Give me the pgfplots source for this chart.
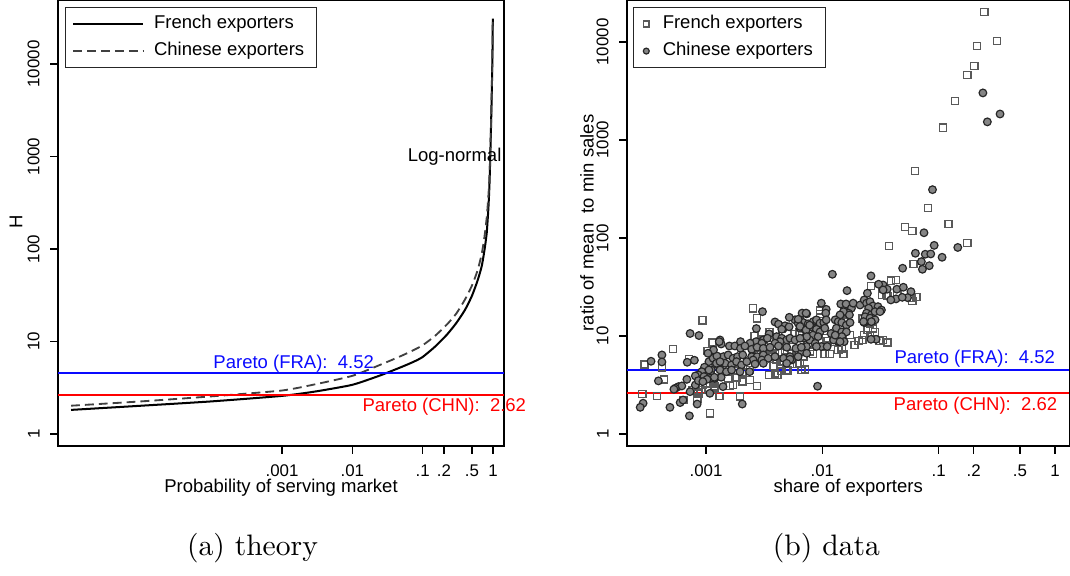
\documentclass[border=0pt]{standalone}
\usepackage{fontspec}
\usepackage{pgfplots}
\pgfplotsset{compat=1.18}
\newfontfamily\hel{Liberation Sans}
\definecolor{parblue}{RGB}{10,10,255}
\definecolor{parred}{RGB}{255,0,0}

\pgfplotsset{
  every axis/.append style={
    scale only axis,
    clip=false,
    axis line style={line width=0.45pt},
    every tick/.style={black, line width=0.45pt},
    tick align=outside,
    major tick length=2.7pt,
    xminorticks=false, yminorticks=false,
    xtick pos=bottom, ytick pos=left,
    tick label style={font=\hel\fontsize{5.7}{6.8}\selectfont},
    yticklabel style={rotate=90, anchor=south},
    label style={font=\hel\fontsize{6.25}{7.5}\selectfont},
    xlabel style={at={(axis description cs:0.5,-0.0944)}, anchor=center},
    legend cell align=left,
    legend style={draw=black!85, line width=0.44pt, fill=white,
      font=\hel\fontsize{6.25}{7.5}\selectfont,
      inner xsep=2.2pt, inner ysep=0.6pt, row sep=-0.9pt},
  },
}
\tikzset{pareto/.style={font=\hel\fontsize{6.25}{7.5}\selectfont, inner sep=0pt, anchor=west}}

\begin{document}
\begin{tikzpicture}
\path[use as bounding box] (0,0) rectangle (361.5pt,-194.6pt);

% (a) theory
\begin{axis}[
  xmode=log, ymode=log,
  xtick={0.001,0.01,0.1,0.2,0.5,1},
  xticklabels={.001,.01,.1,.2,.5,1},
  ytick={1,10,100,1000,10000},
  yticklabels={1,10,100,1000,10000},
  at={(19.60pt,-0.27pt)}, anchor=north west,
  width=150.68pt, height=150.41pt,
  xmin=6.53e-7, xmax=1.432, ymin=0.741, ymax=48200,
  xlabel={Probability of serving market},
  ylabel={H},
  ylabel style={at={(axis description cs:-0.0942,0.503)}, anchor=center},
  legend style={at={(axis description cs:0.0157,0.9865)}, anchor=north west},
  legend image code/.code={\draw[#1] (0pt,0pt) -- (23.6pt,0pt);
    \path (0pt,0pt) (25pt,0pt);},
]
\addplot[black, line width=0.68pt, smooth, tension=0.35] coordinates {
  (1e-6,1.82) (1e-5,2.02) (1e-4,2.25) (1e-3,2.58) (3e-3,2.88) (0.01,3.4)
  (0.025,4.3) (0.05,5.3) (0.075,6.05) (0.1,6.8) (0.15,8.8) (0.22,11.8) (0.3,15.8)
  (0.4,22) (0.5,31) (0.6,45) (0.69,65) (0.76,100) (0.814,150) (0.86,280)
  (0.89,500) (0.91,900) (0.935,2000) (0.96,5000) (0.98,12000) (0.993,31000)
};
\addlegendentry{French exporters}
\addplot[black!75, line width=0.62pt, dash pattern=on 3pt off 1.7pt, smooth, tension=0.35] coordinates {
  (1e-6,2.02) (1e-5,2.25) (1e-4,2.55) (1e-3,2.95) (3e-3,3.45) (0.01,4.25)
  (0.025,5.6) (0.05,7.0) (0.075,8.1) (0.1,9.1) (0.15,11.5) (0.22,15.2) (0.3,20)
  (0.4,28.5) (0.5,40) (0.6,58) (0.69,88) (0.76,140) (0.814,220) (0.86,380)
  (0.89,620) (0.91,1000) (0.935,2100) (0.96,5000) (0.98,12000) (0.993,30000)
};
\addlegendentry{Chinese exporters}
\addplot[color=parblue, line width=0.6pt, forget plot] coordinates {(6.53e-7,4.52) (1.432,4.52)};
\addplot[color=parred, line width=0.6pt, forget plot] coordinates {(6.53e-7,2.62) (1.432,2.62)};
\node[pareto, text=parblue] at (axis cs:1.04e-4,5.71) {Pareto (FRA):\ \ 4.52};
\node[pareto, text=parred] at (axis cs:0.0137,1.96) {Pareto (CHN):\ \ 2.62};
\node[pareto, anchor=east] at (axis cs:1.34,1000) {Log-normal};
\end{axis}

% (b) data
\begin{axis}[
  xmode=log, ymode=log,
  xtick={0.001,0.01,0.1,0.2,0.5,1},
  xticklabels={.001,.01,.1,.2,.5,1},
  ytick={1,10,100,1000,10000},
  yticklabels={1,10,100,1000,10000},
  at={(211.83pt,-0.27pt)}, anchor=north west,
  width=149.50pt, height=150.41pt,
  xmin=2.094e-4, xmax=1.332, ymin=0.754, ymax=26300,
  xlabel={share of exporters},
  ylabel={ratio of mean\ \ to min sales},
  ylabel style={at={(axis description cs:-0.0905,0.501)}, anchor=center},
  legend style={at={(axis description cs:0.0136,0.9865)}, anchor=north west},
  legend image code/.code={\path (0pt,0pt) (5.2pt,0pt);
    \draw[#1, mark size=1.0pt] plot coordinates {(1.85pt,0pt)};},
]
\addplot[only marks, mark=square, mark size=1.2pt,
  mark options={draw=black!65, line width=0.55pt, fill=none}] coordinates {
  (0.246,20200) (0.318,10200) (0.214,9100) (0.202,5690) (0.176,4600)
  (0.138,2500) (0.109,1330) (0.0627,483) (0.081,202) (0.0514,129)
  (0.0592,118) (0.121,139) (0.0375,83) (0.176,89) (0.061,54.3)
  (0.043,37.3) (0.0353,26.2) (0.0646,25.0) (0.0262,32.3) (0.039,36.5)
  (0.058,24.5) (0.0592,22.7) (0.0325,26.2) (0.0365,25.5) (0.044,26.8)
  (0.0325,30.5) (0.00955,16.7) (0.0154,17.3) (0.0161,14.6) (0.0222,15.1)
  (0.0257,13.5) (0.0272,11.9) (0.0284,11.0) (0.0229,10.2) (0.0257,10.0)
  (0.0222,9.1) (0.0333,9.1) (0.0365,8.55) (0.0116,6.55) (0.0147,7.5)
  (0.0152,6.55) (0.0083,6.55) (0.0078,6.9) (0.0071,4.57) (0.0064,5.25)
  (0.00955,18.1) (0.0082,11.5) (0.0108,9.5) (0.0129,8.7) (0.0173,10.2)
  (0.0075,8.1) (0.019,8.1) (0.0053,9.1) (0.0064,11.0) (0.0087,13.9)
  (0.00253,19.2) (0.00275,15.2) (0.00114,8.55) (0.00311,9.25) (0.00343,8.09)
  (0.00371,7.48) (0.00392,6.66) (0.00433,6.76) (0.00478,7.08) (0.00546,6.66)
  (0.00601,6.92) (0.00688,6.15) (0.00283,6.40) (0.00311,6.76) (0.00355,6.15)
  (0.00405,5.69) (0.00448,5.47) (0.00379,4.94) (0.00433,5.14) (0.00494,4.50)
  (0.00608,5.17) (0.00349,4.00) (0.00392,4.16) (0.00448,4.39) (0.0050,4.42)
  (0.0015,4.86) (0.00177,4.42) (0.00207,4.22) (0.00239,4.50) (0.00155,3.70)
  (0.00183,3.79) (0.00207,3.42) (0.00239,3.56) (0.00275,3.09) (0.00161,3.09)
  (0.00171,3.16) (0.0013,2.44) (0.00196,2.40) (0.00108,1.63) (0.00116,3.29)
  (0.00119,2.93) (0.00093,14.5) (0.00052,7.37) (0.000295,5.14) (0.000418,4.80)
  (0.000713,5.83) (0.00103,7.03) (0.000435,3.61) (0.000283,2.56) (0.00038,2.44)
  (0.000857,3.04) (0.00091,2.81) (0.00077,2.81) (0.000857,2.60) (0.00094,3.16)
  (0.0010,3.29) (0.00117,3.42) (0.00118,3.04) (0.00064,2.22) (0.00084,2.31)
  (0.0246,13.7) (0.0246,11.5) (0.0206,8.9) (0.0309,8.9) (0.0089,13.5)
  (0.0105,6.55) (0.0137,7.2) (0.0066,4.5) (0.0056,5.17) (0.0041,4.0)
  (0.0111,8.9) (0.0157,14.0) (0.0035,11.0) (0.0045,12.0) (0.0058,10.5)
  (0.0026,10.0) (0.0040,9.6)
};
\addlegendentry{French exporters}
\addplot[only marks, mark=*, mark size=1.3pt,
  mark options={draw=black!85, fill=black!48, line width=0.4pt}] coordinates {
  (0.240,3020) (0.337,1840) (0.262,1530) (0.0885,311) (0.0748,113)
  (0.0915,84) (0.146,80) (0.0631,69.8) (0.0767,68.2) (0.0855,68.7)
  (0.107,63.5) (0.071,57.3) (0.083,52.1) (0.0725,47.9) (0.049,49.1)
  (0.0333,33.1) (0.0361,30.0) (0.0437,30.0) (0.0497,31.4) (0.0578,28.3)
  (0.043,23.9) (0.054,24.6) (0.0122,42.6) (0.0262,41.0) (0.0305,33.7)
  (0.0486,24.8) (0.0388,23.3) (0.0333,29.5) (0.0163,29.0) (0.0244,27.3)
  (0.0098,21.6) (0.0108,18.7) (0.0107,17.1) (0.0144,21.2) (0.016,21.2)
  (0.0178,19.2) (0.0184,21.6) (0.0211,20.7) (0.0229,23.3) (0.024,21.6)
  (0.0257,22.4) (0.0272,20.2) (0.0301,19.9) (0.0322,18.4) (0.025,19.2)
  (0.024,17.1) (0.0264,16.4) (0.0284,17.7) (0.0313,17.7) (0.0233,15.7)
  (0.0257,15.2) (0.0284,14.6) (0.0229,13.7) (0.0168,17.1) (0.0152,17.7)
  (0.0142,16.4) (0.0171,16.4) (0.00734,16.8) (0.00643,14.8) (0.00686,13.7)
  (0.00756,13.3) (0.00835,14.0) (0.0089,14.6) (0.00955,13.5) (0.0103,13.7)
  (0.0108,14.6) (0.0129,14.6) (0.0137,14.0) (0.0147,13.7) (0.0161,12.9)
  (0.0173,13.7) (0.00643,12.0) (0.0071,11.5) (0.0081,12.4) (0.0089,11.7)
  (0.00955,11.0) (0.0105,12.0) (0.0119,10.6) (0.0132,12.0) (0.0147,11.0)
  (0.0161,11.0) (0.0083,10.2) (0.0092,9.85) (0.0078,9.1) (0.0069,9.5)
  (0.0087,8.4) (0.0098,7.8) (0.0073,7.8) (0.0066,6.9) (0.0147,9.85)
  (0.0137,8.75) (0.0154,8.75) (0.029,9.25) (0.0226,14.0) (0.0264,14.0)
  (0.0262,9.25) (0.0125,9.1) (0.0142,8.75) (0.0129,10.2) (0.0091,3.07)
  (0.011,7.8) (0.0089,7.8) (0.00582,14.6) (0.0062,13.5) (0.0067,17.1)
  (0.00306,17.7) (0.00271,11.9) (0.00392,13.9) (0.0042,13.2) (0.00465,12.0)
  (0.0052,15.5) (0.00478,12.7) (0.00518,12.4) (0.00448,11.7) (0.0062,14.8)
  (0.00725,17.1) (0.00643,12.5) (0.00725,11.5) (0.00778,12.9) (0.00734,9.84)
  (0.00349,10.5) (0.00311,9.10) (0.0027,8.75) (0.00239,8.43) (0.00302,8.43)
  (0.00337,9.48) (0.00405,9.84) (0.00448,9.48) (0.00494,9.10) (0.00527,9.48)
  (0.00582,9.10) (0.00643,9.48) (0.00433,8.75) (0.00392,8.43) (0.00132,9.10)
  (0.00135,8.28) (0.00159,7.90) (0.00177,7.90) (0.00198,8.75) (0.00198,7.48)
  (0.00216,7.90) (0.00247,7.31) (0.00275,7.67) (0.00311,7.48) (0.00355,7.67)
  (0.0042,7.90) (0.00494,7.67) (0.00593,7.48) (0.0066,7.67) (0.00123,6.15)
  (0.00141,6.15) (0.00155,6.40) (0.00171,5.92) (0.00187,6.15) (0.00207,6.40)
  (0.00247,6.15) (0.00275,6.15) (0.00311,6.40) (0.00254,5.69) (0.00302,5.69)
  (0.00343,5.92) (0.00392,6.15) (0.00465,5.92) (0.00527,6.15) (0.00546,5.69)
  (0.0062,6.15) (0.00734,6.66) (0.00116,5.47) (0.00126,5.06) (0.00146,5.26)
  (0.00166,5.06) (0.00183,5.47) (0.00202,5.06) (0.00224,5.47) (0.00264,5.17)
  (0.00311,5.26) (0.00527,5.78) (0.00494,5.26) (0.00111,4.50) (0.00132,4.50)
  (0.0015,4.32) (0.00166,4.50) (0.00196,4.32) (0.00237,4.32) (0.00111,4.00)
  (0.00119,3.70) (0.00135,3.79) (0.0014,3.04) (0.00108,2.60) (0.00205,2.02)
  (0.00073,10.6) (0.00087,10.1) (0.000418,6.40) (0.000337,5.52) (0.000418,5.43)
  (0.00069,5.39) (0.000795,5.65) (0.0013,8.75) (0.00106,5.47) (0.00115,5.92)
  (0.00124,6.25) (0.00123,5.26) (0.00132,5.47) (0.00097,4.80) (0.00106,4.50)
  (0.00092,4.32) (0.00086,4.00) (0.00096,3.85) (0.00109,3.70) (0.00102,3.61)
  (0.00118,3.79) (0.00039,3.48) (0.000685,3.61) (0.00081,3.91) (0.00058,3.04)
  (0.00062,3.09) (0.000545,2.93) (0.00053,2.86) (0.00073,2.70) (0.00081,3.16)
  (0.00086,3.50) (0.00094,3.42) (0.0006,2.09) (0.000635,2.22) (0.00049,1.87)
  (0.00084,2.02) (0.000288,2.06) (0.000272,1.87) (0.00072,1.53) (0.00116,7.2)
  (0.00104,6.66)
};
\addlegendentry{Chinese exporters}
\addplot[color=parblue, line width=0.6pt, forget plot] coordinates {(2.094e-4,4.52) (1.332,4.52)};
\addplot[color=parred, line width=0.6pt, forget plot] coordinates {(2.094e-4,2.62) (1.332,2.62)};
\node[pareto, text=parblue] at (axis cs:0.0413,5.83) {Pareto (FRA):\ \ 4.52};
\node[pareto, text=parred] at (axis cs:0.0406,1.93) {Pareto (CHN):\ \ 2.62};
\end{axis}

\node[font=\fontsize{10}{12}\selectfont] at (85.3pt,-185.1pt) {(a) theory};
\node[font=\fontsize{10}{12}\selectfont] at (279.2pt,-185.1pt) {(b) data};
\end{tikzpicture}
\end{document}
